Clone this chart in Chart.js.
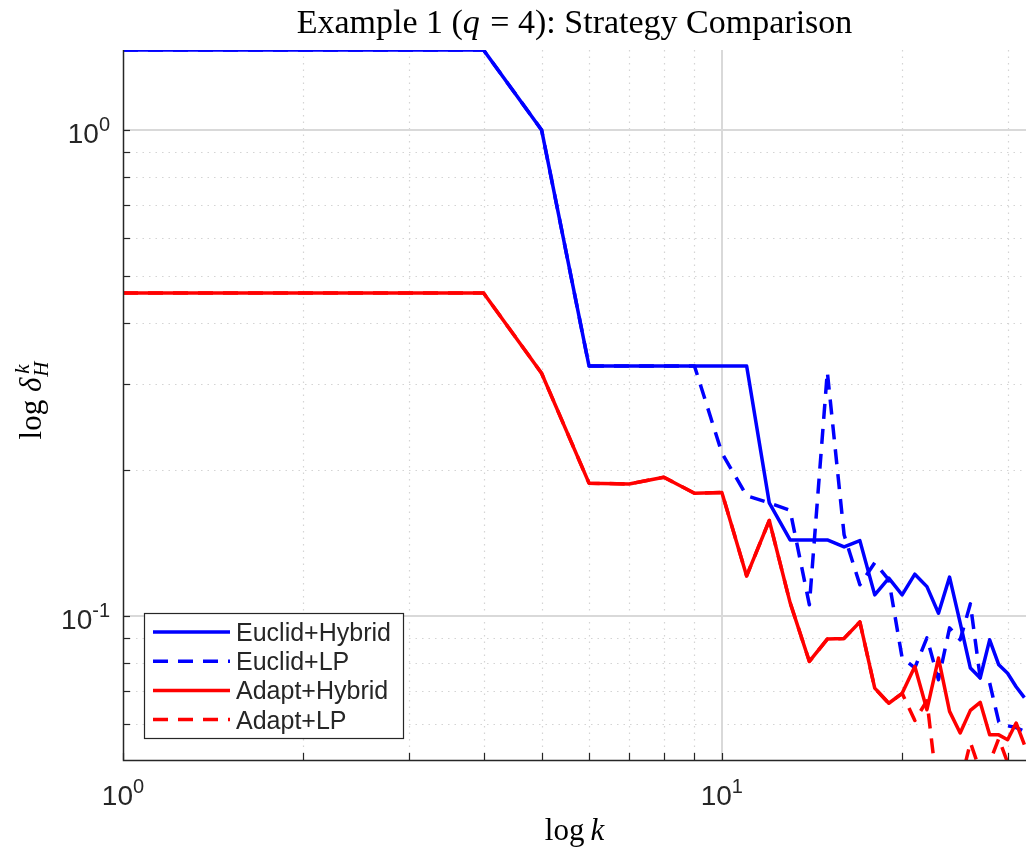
<!DOCTYPE html>
<html>
<head>
<meta charset="utf-8">
<script src="https://cdn.jsdelivr.net/npm/chart.js@4/dist/chart.umd.min.js"></script>
<style>
  html, body { margin: 0; padding: 0; background: #ffffff; }
  #wrap { width: 1026px; height: 852px; position: relative; }
</style>
</head>
<body>
<div id="wrap"><canvas id="chart" width="1026" height="852"></canvas></div>
<script>
// Iteration index k
const iterations = [1,2,3,4,5,6,7,8,9,10,11,12,13,14,15,16,17,18,19,20,21,22,23,24,25,26,27,28,29,30,31,32];

// delta_H^k for each strategy
const euclidHybrid = [1.46,1.46,1.46,1.46,1.0,0.327,0.327,0.327,0.327,0.327,0.327,0.171,0.1435,0.1435,0.1435,0.1388,0.143,0.1106,0.1197,0.1106,0.122,0.115,0.1014,0.1203,0.0969,0.0782,0.0746,0.0894,0.0794,0.0763,0.0716,0.068];
const euclidLP     = [1.46,1.46,1.46,1.46,1.0,0.327,0.327,0.327,0.327,0.2167,0.1768,0.171,0.165,0.1055,0.318,0.147,0.116,0.1288,0.1188,0.082,0.0783,0.0902,0.074,0.0946,0.0894,0.106,0.0747,0.0729,0.0606,0.0595,0.059,0.058];
const adaptHybrid  = [0.462,0.462,0.462,0.462,0.316,0.1877,0.187,0.1931,0.179,0.1797,0.121,0.1573,0.1066,0.0807,0.0897,0.09,0.0973,0.0711,0.0662,0.0694,0.0788,0.0642,0.082,0.0637,0.0575,0.064,0.0665,0.057,0.057,0.0557,0.0603,0.0544];
const adaptLP      = [0.462,0.462,0.462,0.462,0.316,0.1877,0.187,0.1931,0.179,0.1797,0.121,0.1573,0.1066,0.0807,0.0897,0.09,0.0973,0.0711,0.0662,0.0694,0.061,0.067,0.042,0.04,0.045,0.055,0.048,0.05,0.056,0.05,0.048,0.046];

const seriesNames = ['Euclid+Hybrid', 'Euclid+LP', 'Adapt+Hybrid', 'Adapt+LP'];

// Axis limits and tick positions (log10 axes)
const xLimits = [1, 32.2];
const yLimits = [0.0506, 1.46];
const xGridTicks = [1,2,3,4,5,6,7,8,9,10,20,30];
const yGridTicks = [0.06,0.07,0.08,0.09,0.1,0.2,0.3,0.4,0.5,0.6,0.7,0.8,0.9,1];
const xMajorTicks = [1, 10];
const yMajorTicks = [0.1, 1];
const xTickLabels = [['10','0'], ['10','1']];
const yTickLabels = [['10','-1'], ['10','0']];

const BLUE = '#0000ff';
const RED = '#ff0000';
const DASH = [15, 10];
const AXIS_COLOR = '#262626';
const SANS = '"Liberation Sans", Arial, Helvetica, sans-serif';
const SERIF = '"Liberation Serif", "Times New Roman", serif';

function toPoints(values) {
  return values.map((v, i) => ({ x: iterations[i], y: v }));
}

// Draws a run of text pieces with their own fonts / offsets, returns total width
function drawRuns(ctx, runs, x, y, align) {
  let total = 0;
  runs.forEach(r => { ctx.font = r.font; r.w = ctx.measureText(r.text).width; total += r.w + (r.gap || 0); });
  let cx = align === 'center' ? x - total / 2 : (align === 'right' ? x - total : x);
  runs.forEach(r => {
    ctx.font = r.font;
    ctx.textAlign = 'left';
    ctx.fillText(r.text, cx, y + (r.dy || 0));
    cx += r.w + (r.gap || 0);
  });
  return total;
}

const gridPlugin = {
  id: 'matlabGrid',
  beforeDatasetsDraw(chart) {
    const { ctx, chartArea: a, scales: { x, y } } = chart;
    ctx.save();
    // minor dotted grid
    ctx.strokeStyle = '#d4d4d4';
    ctx.lineWidth = 1.2;
    ctx.setLineDash([1.5, 5]);
    xGridTicks.filter(v => !xMajorTicks.includes(v)).forEach(v => {
      const px = Math.round(x.getPixelForValue(v)) + 0.5;
      ctx.beginPath(); ctx.moveTo(px, a.bottom); ctx.lineTo(px, a.top); ctx.stroke();
    });
    yGridTicks.filter(v => !yMajorTicks.includes(v)).forEach(v => {
      const py = Math.round(y.getPixelForValue(v)) + 0.5;
      ctx.beginPath(); ctx.moveTo(a.left, py); ctx.lineTo(a.right, py); ctx.stroke();
    });
    // major solid grid
    ctx.setLineDash([]);
    ctx.strokeStyle = '#d9d9d9';
    ctx.lineWidth = 2;
    xMajorTicks.forEach(v => {
      const px = Math.round(x.getPixelForValue(v));
      if (px <= a.left + 1) return;
      ctx.beginPath(); ctx.moveTo(px, a.bottom); ctx.lineTo(px, a.top); ctx.stroke();
    });
    yMajorTicks.forEach(v => {
      const py = Math.round(y.getPixelForValue(v));
      ctx.beginPath(); ctx.moveTo(a.left, py); ctx.lineTo(a.right, py); ctx.stroke();
    });
    ctx.restore();
  },
  afterDatasetsDraw(chart) {
    const { ctx, chartArea: a, scales: { x, y } } = chart;
    ctx.save();
    // axis lines
    ctx.strokeStyle = AXIS_COLOR;
    ctx.lineWidth = 1.5;
    ctx.beginPath();
    ctx.moveTo(a.left + 0.5, a.top);
    ctx.lineTo(a.left + 0.5, a.bottom + 0.5);
    ctx.lineTo(a.right, a.bottom + 0.5);
    ctx.stroke();
    // inward tick marks
    ctx.lineWidth = 1.2;
    xGridTicks.forEach(v => {
      const px = Math.round(x.getPixelForValue(v)) + 0.5;
      ctx.beginPath(); ctx.moveTo(px, a.bottom); ctx.lineTo(px, a.bottom - 7); ctx.stroke();
    });
    yGridTicks.forEach(v => {
      const py = Math.round(y.getPixelForValue(v)) + 0.5;
      ctx.beginPath(); ctx.moveTo(a.left, py); ctx.lineTo(a.left + 7, py); ctx.stroke();
    });
    // tick labels with exponents
    ctx.fillStyle = AXIS_COLOR;
    ctx.textBaseline = 'alphabetic';
    const big = '28px ' + SANS, small = '20px ' + SANS;
    xMajorTicks.forEach((v, i) => {
      const px = x.getPixelForValue(v);
      drawRuns(ctx, [
        { text: xTickLabels[i][0], font: big },
        { text: xTickLabels[i][1], font: small, dy: -12 }
      ], px, a.bottom + 45, 'center');
    });
    yMajorTicks.forEach((v, i) => {
      const py = y.getPixelForValue(v);
      drawRuns(ctx, [
        { text: yTickLabels[i][0], font: big },
        { text: yTickLabels[i][1], font: small, dy: -12 }
      ], a.left - 13, py + 13, 'right');
    });
    ctx.restore();
  },
  afterDraw(chart) {
    const { ctx, chartArea: a } = chart;
    ctx.save();
    ctx.fillStyle = '#000000';
    ctx.textBaseline = 'alphabetic';
    const midX = (a.left + a.right) / 2;
    // title
    const tf = '34px ' + SERIF, tfi = 'italic 34px ' + SERIF;
    drawRuns(ctx, [
      { text: 'Example 1 (', font: tf },
      { text: 'q', font: tfi, gap: 2 },
      { text: ' = 4): Strategy Comparison', font: tf }
    ], midX, 33, 'center');
    // x axis label
    const lf = '31px ' + SERIF, lfi = 'italic 31px ' + SERIF;
    drawRuns(ctx, [
      { text: 'log', font: lf, gap: 6 },
      { text: 'k', font: lfi }
    ], midX, 840, 'center');
    // y axis label (rotated)
    ctx.save();
    ctx.translate(41, (a.top + a.bottom) / 2 - 5);
    ctx.rotate(-Math.PI / 2);
    ctx.font = lf;
    const w1 = ctx.measureText('log ').width;
    ctx.font = lfi;
    const w2 = ctx.measureText('\u03B4').width;
    ctx.font = 'italic 21px ' + SERIF;
    const w3 = Math.max(ctx.measureText('k').width, ctx.measureText('H').width);
    let sx = -(w1 + w2 + w3 + 2) / 2;
    ctx.textAlign = 'left';
    ctx.font = lf; ctx.fillText('log ', sx, 0); sx += w1;
    ctx.font = lfi; ctx.fillText('\u03B4', sx, 0); sx += w2 + 1;
    ctx.font = 'italic 21px ' + SERIF;
    ctx.fillText('k', sx + 3, -12);
    ctx.fillText('H', sx, 7);
    ctx.restore();

    // legend box inside the axes
    const box = { x: 144, y: 613, w: 259, h: 125 };
    ctx.fillStyle = '#ffffff';
    ctx.fillRect(box.x, box.y, box.w, box.h);
    ctx.strokeStyle = AXIS_COLOR;
    ctx.lineWidth = 1.2;
    ctx.setLineDash([]);
    ctx.strokeRect(box.x + 0.5, box.y + 0.5, box.w, box.h);
    chart.data.datasets.forEach((ds, i) => {
      const cy = box.y + 19 + i * 29.2;
      ctx.strokeStyle = ds.borderColor;
      ctx.lineWidth = ds.borderWidth;
      ctx.setLineDash(ds.borderDash || []);
      ctx.beginPath(); ctx.moveTo(box.x + 9, cy); ctx.lineTo(box.x + 86, cy); ctx.stroke();
      ctx.setLineDash([]);
      ctx.fillStyle = AXIS_COLOR;
      ctx.font = '25px ' + SANS;
      ctx.textAlign = 'left';
      ctx.fillText(ds.label, box.x + 92, cy + 9);
    });
    ctx.restore();
  }
};

function makeDataset(label, values, color, dashed, order) {
  return {
    label,
    data: toPoints(values),
    borderColor: color,
    backgroundColor: color,
    borderWidth: 3.5,
    borderDash: dashed ? DASH : [],
    pointRadius: 0,
    pointHoverRadius: 0,
    tension: 0,
    fill: false,
    borderJoinStyle: 'round',
    order
  };
}

new Chart(document.getElementById('chart'), {
  type: 'line',
  data: {
    datasets: [
      makeDataset(seriesNames[0], euclidHybrid, BLUE, false, 4),
      makeDataset(seriesNames[1], euclidLP, BLUE, true, 3),
      makeDataset(seriesNames[2], adaptHybrid, RED, false, 2),
      makeDataset(seriesNames[3], adaptLP, RED, true, 1)
    ]
  },
  options: {
    responsive: false,
    animation: false,
    devicePixelRatio: 1,
    layout: { padding: { left: 123, top: 50, right: 0, bottom: 92 } },
    scales: {
      x: { type: 'logarithmic', min: xLimits[0], max: xLimits[1], display: false },
      y: { type: 'logarithmic', min: yLimits[0], max: yLimits[1], display: false }
    },
    plugins: {
      legend: { display: false },
      tooltip: { enabled: false },
      title: { display: false }
    }
  },
  plugins: [gridPlugin]
});
</script>
</body>
</html>
